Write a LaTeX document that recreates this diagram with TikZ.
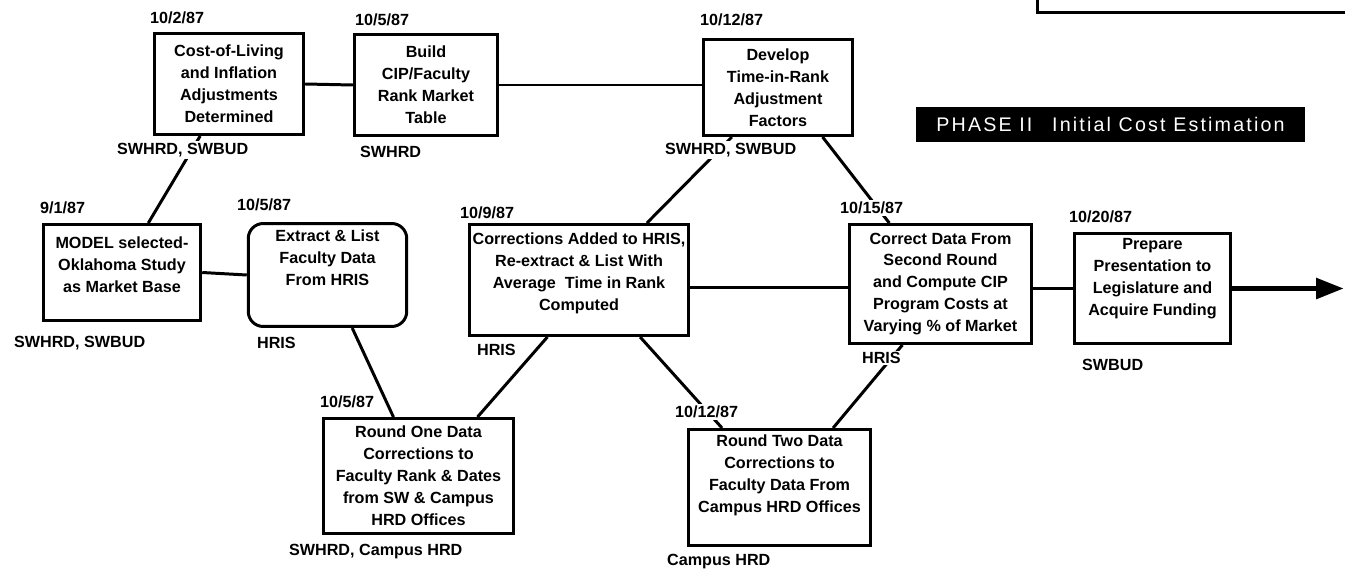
\documentclass[tikz,border=0pt]{standalone}
\usepackage{fontspec}
\setmainfont{Liberation Sans}
\newfontfamily\phasefont[LetterSpace=11]{Liberation Sans}
\usetikzlibrary{arrows.meta, calc}

\begin{document}
\begin{tikzpicture}[
    x=0.02cm, y=-0.02cm,
    % Styles
    task/.style={rectangle, draw, line width=1.7pt, align=center, inner sep=2pt, font=\fontsize{9.2}{12.5}\selectfont\bfseries},
    stamp/.style={anchor=west, inner sep=1pt, fill=white, font=\fontsize{9.2}{11}\selectfont\bfseries},
    owner/.style={anchor=west, inner sep=1pt, fill=white, font=\fontsize{9.2}{11}\selectfont\bfseries},
    link/.style={line width=1.7pt},
    flow/.style={line width=3.2pt, -{Triangle[length=0.56cm, width=0.4cm]}},
]
\useasboundingbox (0,0) rectangle (1345,571);

% === TOP ROW ===
\node[task, minimum width=2.99cm, minimum height=2.02cm] (cost) at (229,84) {Cost-of-Living\\and Inflation\\Adjustments\\Determined};
\node[task, minimum width=2.87cm, minimum height=2.02cm] (build) at (426,85) {Build\\CIP/Faculty\\Rank Market\\Table};
\node[task, minimum width=2.99cm, minimum height=1.92cm] (develop) at (778,87.5) {Develop\\Time-in-Rank\\Adjustment\\Factors};
\node[task, minimum width=8cm, minimum height=1.2cm] (topbox) at (1237,-17) {};

% === MIDDLE ROW ===
\node[task, minimum width=3.15cm, minimum height=1.92cm, text depth=8.7pt] (model) at (122,272.5) {MODEL selected-\\Oklahoma Study\\as Market Base};
\node[task, rounded corners=0.3cm, minimum width=3.17cm, minimum height=2.06cm, text depth=19.5pt] (extract) at (327.5,275) {Extract \& List\\Faculty Data\\From HRIS};
\node[task, minimum width=4.39cm, minimum height=2.22cm, text depth=9.9pt] (corrections) at (579,280) {Corrections Added to HRIS,\\Re-extract \& List With\\Average\ \ Time in Rank\\Computed};
\node[task, minimum width=3.65cm, minimum height=2.38cm] (correct) at (940.5,284) {Correct Data From\\Second Round\\and Compute CIP\\Program Costs at\\Varying \% of Market};
\node[task, minimum width=3.13cm, minimum height=2.2cm, text depth=12.7pt] (prepare) at (1152.5,288.5) {Prepare\\Presentation to\\Legislature and\\Acquire Funding};
\coordinate (end) at (1344,288.5);

% === BOTTOM ROW ===
\node[task, minimum width=3.81cm, minimum height=2.3cm] (roundone) at (418.5,476) {Round One Data\\Corrections to\\Faculty Rank \& Dates\\from SW \& Campus\\HRD Offices};
\node[task, minimum width=3.65cm, minimum height=2.32cm, text depth=15.5pt] (roundtwo) at (779.5,487.5) {Round Two Data\\Corrections to\\Faculty Data From\\Campus HRD Offices};

% Phase banner
\node[fill=black, text=white, minimum width=7.78cm, minimum height=0.7cm, font=\phasefont\fontsize{11.2}{13}\selectfont] (phase) at (1110.5,124.5) {PHASE II\quad Initial Cost Estimation};

% Connectors
\draw[link] (cost.east) -- (build.west);
\draw[link] (build.east) -- (build.east -| develop.west);
\draw[link] (cost.241) -- (model.62);
\draw[link] (model.east) -- (extract.west);
\draw[link] (extract.295) -- (roundone.113);
\draw[link] (corrections.241) -- (roundone.45);
\draw[link] (corrections.40) -- (develop.227);
\draw[link] (corrections.356) -- (corrections.356 -| correct.west);
\draw[link] (develop.312) -- (correct.130);
\draw[link] (corrections.317) -- (roundtwo.134);
\draw[link] (roundtwo.48) -- (correct.238);
\draw[link] (prepare.west -| correct.east) -- (prepare.west);
\draw[flow] (prepare.east) -- (end);

% Dates
\node[stamp] (costdate) at (148,18) {10/2/87};
\node[stamp] (builddate) at (353,20) {10/5/87};
\node[stamp] (developdate) at (698,20) {10/12/87};
\node[stamp] (modeldate) at (38,208) {9/1/87};
\node[stamp] (extractdate) at (235,205) {10/5/87};
\node[stamp] (correctionsdate) at (458,213) {10/9/87};
\node[stamp] (correctdate) at (838,208) {10/15/87};
\node[stamp] (preparedate) at (1067,217) {10/20/87};
\node[stamp] (roundonedate) at (318,402) {10/5/87};
\node[stamp] (roundtwodate) at (673,412) {10/12/87};

% Responsible offices
\node[owner] (costwho) at (115,150) {SWHRD, SWBUD};
\node[owner] (buildwho) at (358,152) {SWHRD};
\node[owner] (developwho) at (663,150) {SWHRD, SWBUD};
\node[owner] (modelwho) at (12,343) {SWHRD, SWBUD};
\node[owner] (extractwho) at (255,343) {HRIS};
\node[owner] (correctionswho) at (475,350) {HRIS};
\node[owner] (correctwho) at (860,358) {HRIS};
\node[owner] (preparewho) at (1080,365) {SWBUD};
\node[owner] (roundonewho) at (287,552) {SWHRD, Campus HRD};
\node[owner] (roundtwowho) at (665,562) {Campus HRD};

\end{tikzpicture}
\end{document}
